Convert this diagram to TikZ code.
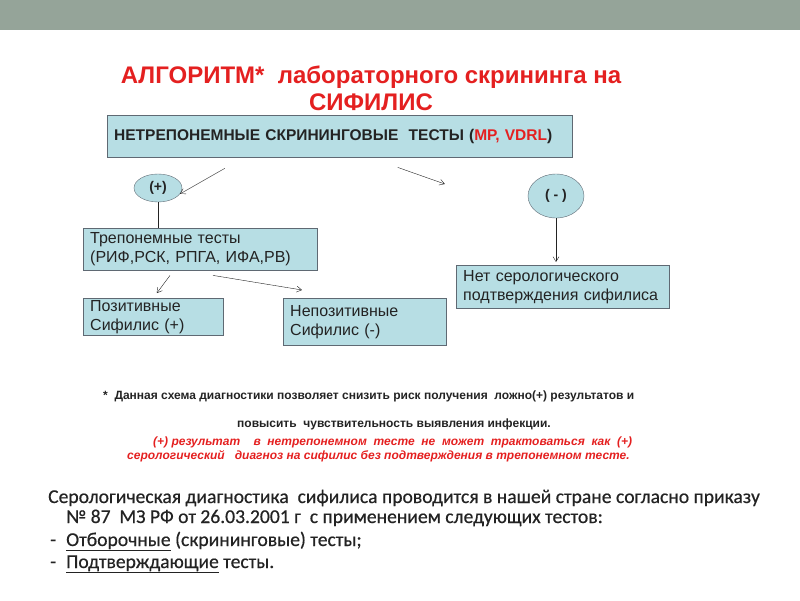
\documentclass[tikz,border=0pt]{standalone}
\usepackage{fontspec}
\setmainfont{Liberation Sans}
\newfontfamily\bodyfont[BoldFont=Carlito, BoldFeatures={FakeBold=0.5}]{Carlito}
\usetikzlibrary{positioning,calc,arrows.meta,shapes.geometric}
\definecolor{BandGray}{RGB}{149,164,153}
\definecolor{BoxBlue}{RGB}{183,222,228}
\definecolor{BoxLine}{RGB}{95,105,115}
\definecolor{TitleRed}{RGB}{228,32,32}
\definecolor{InkGray}{RGB}{35,35,35}

\begin{document}
\begin{tikzpicture}[
    x=1pt, y=-1pt,
    >={Straight Barb[length=5pt,width=6pt]},
    box/.style={draw=BoxLine, fill=BoxBlue, anchor=north west, align=left, inner xsep=7pt, inner ysep=0pt, text=InkGray, font=\fontsize{16}{19}\selectfont},
    sign/.style={draw=BoxLine, fill=BoxBlue, ellipse, inner sep=0pt, text=InkGray, font=\bfseries\fontsize{14}{16}\selectfont},
    arrow/.style={->, draw=InkGray, thin},
    note/.style={anchor=base west, inner sep=0pt, text=InkGray, font=\bfseries\fontsize{12}{14}\selectfont},
    warn/.style={anchor=base west, inner sep=0pt, text=TitleRed, font=\bfseries\itshape\fontsize{12}{14}\selectfont},
    body/.style={anchor=base west, inner sep=0pt, text=InkGray, font=\bodyfont\bfseries\fontsize{19.6}{21}\selectfont}
]
\useasboundingbox (0,0) rectangle (800,600);
\fill[BandGray] (0,0) rectangle (800,30);
\node[align=center, text=TitleRed, font=\bfseries\fontsize{24}{27}\selectfont] (title) at (371,88) {АЛГОРИТМ*~~лабораторного скрининга на\\СИФИЛИС};
% screening and results
\node[box, text width=451pt, minimum height=42pt, font=\bfseries\fontsize{15.5}{18}\selectfont] (main) at (107,115) {НЕТРЕПОНЕМНЫЕ СКРИНИНГОВЫЕ~~ТЕСТЫ (\textcolor{TitleRed}{МР, VDRL})};
\node[sign, minimum width=48pt, minimum height=28pt] (plus) at (158,188) {(+)};
\node[sign, minimum width=56pt, minimum height=44pt] (minus) at (556,196) {(~-~)};
\node[box, text width=220pt, minimum height=42pt] (trep) at (83,228) {Трепонемные тесты\\(РИФ,РСК, РПГА, ИФА,РВ)};
\node[box, text width=126pt, minimum height=37pt] (pos) at (83,298) {Позитивные\\Сифилис (+)};
\node[box, text width=149pt, minimum height=47pt] (nonpos) at (283,298) {Непозитивные\\Сифилис (-)};
\node[box, text width=199pt, minimum height=43pt] (noconf) at (456,265) {Нет серологического\\подтверждения сифилиса};
\coordinate (m1) at ($(main.south)+(-115,11)$);
\coordinate (m2) at ($(main.south)+(58,10)$);
\coordinate (m3) at ($(minus.west)+(-83,-12)$);
\coordinate (t1) at ($(trep.south west)+(87,5)$);
\coordinate (t2) at ($(trep.south west)+(130,5)$);
\coordinate (t3) at ($(nonpos.north west)+(19,-8)$);
\draw[arrow] (m1) -- (plus.-15);
\draw[arrow] (m2) -- (m3);
\draw[InkGray, thin] (plus.south) -- (plus.south |- trep.north);
\draw[arrow, shorten >=6pt] (t1) -- (pos.north);
\draw[arrow] (t2) -- (t3);
\draw[arrow, shorten >=3pt] (minus.south) -- (minus.south |- noconf.north);
% notes
\node[note] (note1) at (103,399) {*~~Данная схема диагностики позволяет снизить риск получения~~ложно(+) результатов и};
\node[note] (note2) at (237,427) {повысить~~чувствительность выявления инфекции.};
\node[warn] (warn1) at (153,445) {(+) результат~~~~в~~нетрепонемном~~тесте~~не~~может~~трактоваться~~как~~(+)};
\node[warn] (warn2) at (127,459) {серологический~~~диагноз на сифилис без подтверждения в трепонемном тесте.};
% order text
\node[body] (line1) at (48,503) {Серологическая диагностика~~сифилиса проводится в нашей стране согласно приказу};
\node[body] (line2) at (66,523) {№ 87~~МЗ РФ от 26.03.2001 г~~с применением следующих тестов:};
\node[body] (dash1) at (50,546) {-};
\node[body] (item1) at (66,546) {\underline{Отборочные} (скрининговые) тесты;};
\node[body] (dash2) at (50,568) {-};
\node[body] (item2) at (66,568) {\underline{Подтверждающие} тесты.};
\end{tikzpicture}
\end{document}
